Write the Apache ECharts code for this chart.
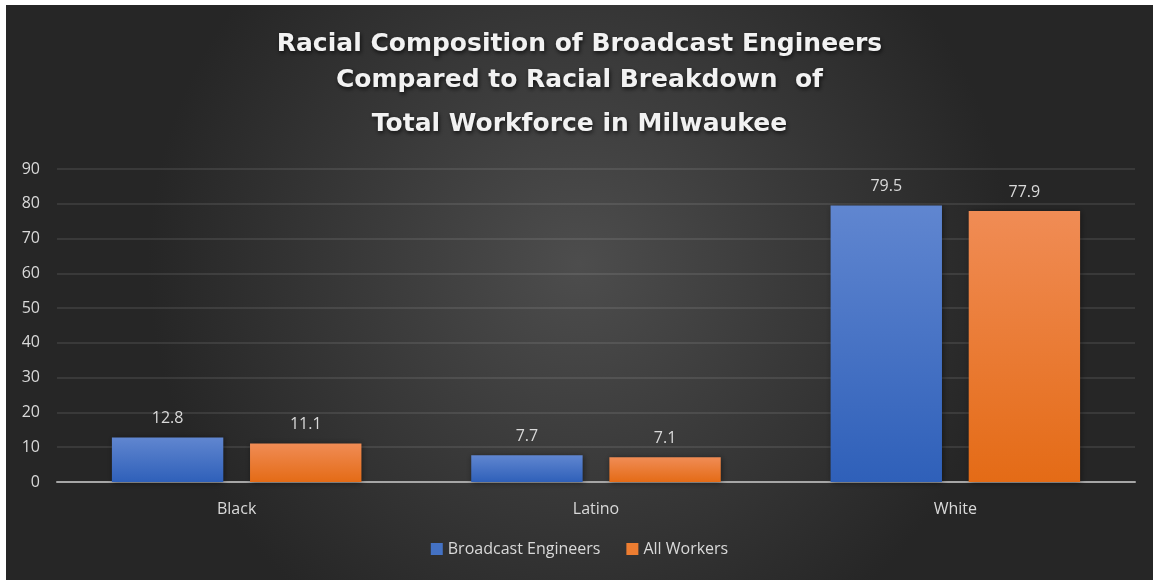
<!DOCTYPE html>
<html>
<head>
<meta charset="utf-8">
<script src="https://cdn.jsdelivr.net/npm/echarts@6/dist/echarts.min.js"></script>
<style>
    html, body { margin: 0; padding: 0; background: #fff; }
    #chart { position: absolute; left: 6px; top: 5px; width: 1147px; height: 575px; }
</style>
</head>
<body>
<div id="chart"></div>
<script>
    // data
    var categories = ["Black", "Latino", "White"];
    var broadcastEngineers = [12.8, 7.7, 79.5];
    var allWorkers = [11.1, 7.1, 77.9];
    var seriesNames = ["Broadcast Engineers", "All Workers"];
    var titleLines = [
        "Racial Composition of Broadcast Engineers",
        "Compared to Racial Breakdown  of",
        "Total Workforce in Milwaukee"
    ];

    var labelColor = "#d9d9d9";
    var fontFamily = "'Open Sans', 'Noto Sans', sans-serif";

    var chart = echarts.init(document.getElementById("chart"));

    function grad(top, bottom) {
        return new echarts.graphic.LinearGradient(0, 0, 0, 1, [
            { offset: 0, color: top },
            { offset: 1, color: bottom }
        ]);
    }

    var titleShadow = {
        color: "#f2f2f2",
        fontSize: 25,
        fontWeight: "bold",
        fontFamily: "'DejaVu Sans', sans-serif",
        textShadowColor: "rgba(0,0,0,0.7)",
        textShadowBlur: 4,
        textShadowOffsetX: 1,
        textShadowOffsetY: 2
    };

    var option = {
        backgroundColor: new echarts.graphic.RadialGradient(0.5, 0.45, 0.75, [
            { offset: 0, color: "#4d4d4d" },
            { offset: 1, color: "#262626" }
        ]),
        title: {
            text: "{a|" + titleLines[0] + "}\n{a|" + titleLines[1] + "}\n{b|" + titleLines[2] + "}",
            left: "center",
            top: 21,
            padding: 0,
            textStyle: {
                rich: {
                    a: Object.assign({ lineHeight: 36 }, titleShadow),
                    b: Object.assign({ lineHeight: 52 }, titleShadow)
                }
            }
        },
        legend: {
            bottom: 18,
            left: "center",
            itemWidth: 12,
            itemHeight: 12,
            itemGap: 26,
            icon: "rect",
            textStyle: { color: labelColor, fontSize: 16, fontFamily: fontFamily },
            data: [
                { name: seriesNames[0], itemStyle: { color: "#4472c4" } },
                { name: seriesNames[1], itemStyle: { color: "#ed7d31" } }
            ]
        },
        grid: {
            left: 51,
            right: 18,
            top: 164,
            bottom: 98
        },
        xAxis: {
            type: "category",
            data: categories,
            axisTick: { show: false },
            axisLine: { lineStyle: { color: "#a6a6a6", width: 2 } },
            axisLabel: { color: labelColor, fontSize: 16, fontFamily: fontFamily, margin: 19 }
        },
        yAxis: {
            type: "value",
            min: 0,
            max: 90,
            interval: 10,
            axisLine: { show: false },
            axisTick: { show: false },
            axisLabel: { color: labelColor, fontSize: 16, fontFamily: fontFamily, margin: 17 },
            splitLine: { lineStyle: { color: "rgba(255,255,255,0.12)", width: 1.5 } }
        },
        series: [
            {
                name: seriesNames[0],
                type: "bar",
                data: broadcastEngineers,
                barWidth: "31%",
                barGap: "24%",
                itemStyle: {
                    color: grad("#6086d0", "#2f60b9"),
                    shadowColor: "rgba(0,0,0,0.45)",
                    shadowBlur: 6,
                    shadowOffsetX: 1,
                    shadowOffsetY: 1
                },
                label: {
                    show: true,
                    position: "top",
                    distance: 11,
                    color: labelColor,
                    fontSize: 16,
                    fontFamily: fontFamily
                }
            },
            {
                name: seriesNames[1],
                type: "bar",
                data: allWorkers,
                barWidth: "31%",
                itemStyle: {
                    color: grad("#f08c55", "#e46b16"),
                    shadowColor: "rgba(0,0,0,0.45)",
                    shadowBlur: 6,
                    shadowOffsetX: 1,
                    shadowOffsetY: 1
                },
                label: {
                    show: true,
                    position: "top",
                    distance: 11,
                    color: labelColor,
                    fontSize: 16,
                    fontFamily: fontFamily
                }
            }
        ]
    };

    chart.setOption(option);
</script>
</body>
</html>
